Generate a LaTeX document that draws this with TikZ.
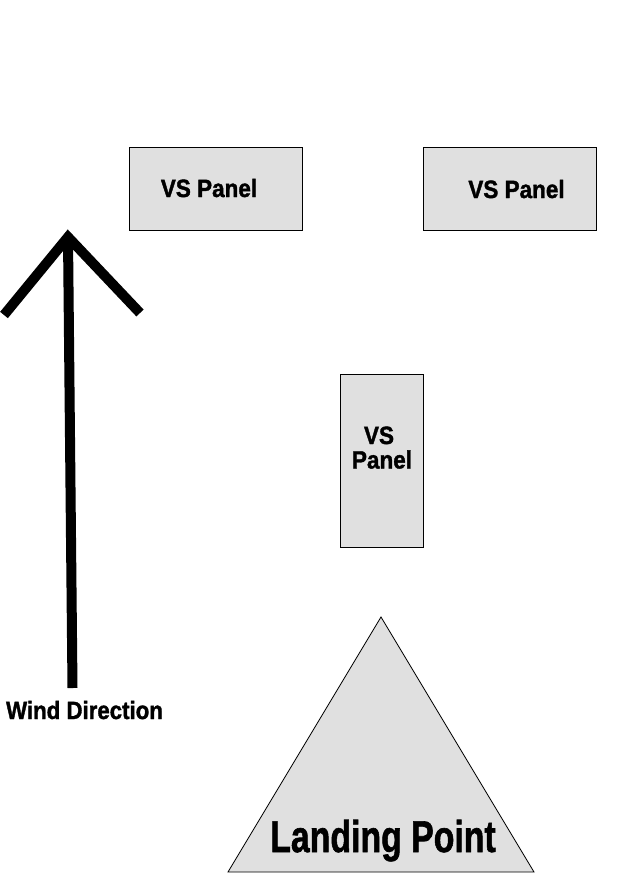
\documentclass[tikz,border=0pt]{standalone}
\usepackage{fontspec}
\setmainfont{Liberation Sans}[BoldFeatures={FakeBold=1.5}]
\definecolor{panelgray}{HTML}{E0E0E0}
\tikzset{
  panel/.style={draw=black, line width=0.8pt, fill=panelgray, inner sep=0pt},
  lbl/.style={inner sep=0pt, anchor=base, font=\bfseries\fontsize{25}{24}\selectfont, align=center},
  bigl/.style={inner sep=0pt, anchor=base, font=\bfseries\fontsize{44.5}{44}\selectfont},
  windline/.style={line width=10pt, draw=black}
}
\begin{document}
\begin{tikzpicture}[x=1pt,y=-1pt]
\useasboundingbox (0,0) rectangle (631,894);
% panels
\node[panel, minimum width=173pt, minimum height=83pt] (p1) at (215.5,188.5) {};
\node[panel, minimum width=173pt, minimum height=83pt] (p2) at (509.5,188.5) {};
\node[panel, minimum width=83pt, minimum height=173pt] (p3) at (381.5,460.5) {};
\node[lbl] (t1) at (209,197) {\scalebox{0.9}[1]{VS Panel}};
\node[lbl] (t2) at (516.5,198) {\scalebox{0.9}[1]{VS Panel}};
\node[lbl] (t3a) at (379,444) {\scalebox{0.9}[1]{VS}};
\node[lbl] (t3b) at (382,468.5) {\scalebox{0.9}[1]{Panel}};
% landing point triangle
\coordinate (apex) at (381,617);
\coordinate (br) at (534,872);
\coordinate (bl) at (228,872);
\draw[fill=panelgray, line width=0.8pt, line join=miter] (apex) -- (br) -- (bl) -- cycle;
\node[bigl] (lp) at (383,852) {\scalebox{0.76}[1]{Landing Point}};
% wind arrow
\coordinate (tail) at (72.5,688);
\coordinate (tip) at (68,237);
\coordinate (hl) at (4,315);
\coordinate (hr) at (140,313);
\draw[windline, line cap=butt] (tail) -- (tip);
\draw[windline, line cap=butt, line join=miter] (hl) -- (tip) -- (hr);
\node[lbl] (wd) at (84.5,719) {\scalebox{0.89}[1]{Wind Direction}};
\end{tikzpicture}
\end{document}
